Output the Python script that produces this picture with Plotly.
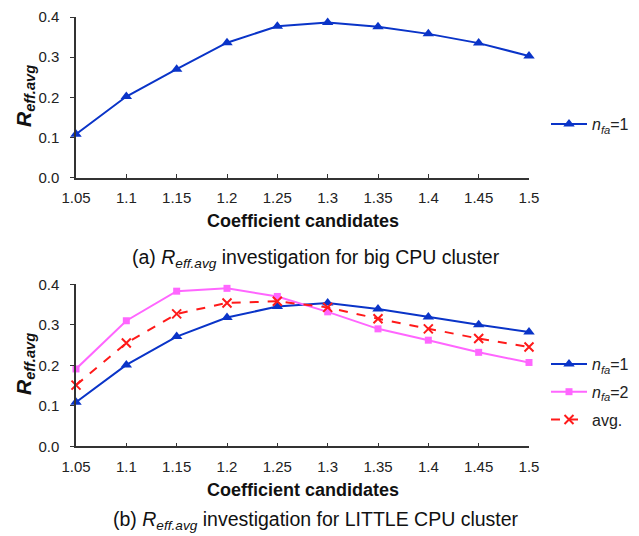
import plotly.graph_objects as go

# Coefficient candidates on the x axis
coeffs = [1.05, 1.1, 1.15, 1.2, 1.25, 1.3, 1.35, 1.4, 1.45, 1.5]
tick_text = ["1.05", "1.1", "1.15", "1.2", "1.25", "1.3", "1.35", "1.4", "1.45", "1.5"]

# (a) big CPU cluster
big_nfa1 = [0.108, 0.202, 0.270, 0.336, 0.377, 0.386, 0.376, 0.358, 0.335, 0.303]

# (b) LITTLE CPU cluster
little_nfa1 = [0.109, 0.201, 0.271, 0.318, 0.345, 0.354, 0.339, 0.319, 0.300, 0.282]
little_nfa2 = [0.191, 0.310, 0.383, 0.390, 0.370, 0.332, 0.290, 0.262, 0.232, 0.207]
little_avg = [0.151, 0.255, 0.327, 0.354, 0.358, 0.343, 0.315, 0.290, 0.266, 0.245]

BLUE = "#0a34c8"
PINK = "#ff66ff"
RED = "#ff1a1a"
FONT = "Liberation Sans, Arial, sans-serif"

W, H = 639, 536


def px(x):
    return x / W


def py(y):
    return 1 - y / H


fig = go.Figure()

fig.add_trace(go.Scatter(
    x=coeffs, y=big_nfa1, mode="lines+markers", name="<i>n<sub>fa</sub></i>=1",
    line=dict(color=BLUE, width=2),
    marker=dict(symbol="triangle-up", size=10, color=BLUE),
    xaxis="x", yaxis="y", legend="legend", cliponaxis=False,
))

fig.add_trace(go.Scatter(
    x=coeffs, y=little_nfa1, mode="lines+markers", name="<i>n<sub>fa</sub></i>=1",
    line=dict(color=BLUE, width=2),
    marker=dict(symbol="triangle-up", size=10, color=BLUE),
    xaxis="x2", yaxis="y2", legend="legend2", legendgroup="g1", cliponaxis=False,
))
fig.add_trace(go.Scatter(
    x=coeffs, y=little_nfa2, mode="lines+markers", name="<i>n<sub>fa</sub></i>=2",
    line=dict(color=PINK, width=2),
    marker=dict(symbol="square", size=7, color=PINK),
    xaxis="x2", yaxis="y2", legend="legend2", legendgroup="g2", cliponaxis=False,
))
fig.add_trace(go.Scatter(
    x=coeffs, y=little_avg, mode="lines+markers", name="avg.",
    line=dict(color=RED, width=2, dash="dash"),
    marker=dict(symbol="x-thin", size=9, color=RED, line=dict(color=RED, width=2)),
    xaxis="x2", yaxis="y2", legend="legend2", legendgroup="g3", cliponaxis=False,
))

xdom = [px(76), px(529)]
top_dom = [py(177.7), py(17)]
bot_dom = [py(446.3), py(284.3)]

xaxis_common = dict(
    range=[1.05, 1.5], tickvals=coeffs, ticktext=tick_text,
    showline=True, linecolor="#333333", linewidth=1.5,
    ticks="inside", ticklen=4, tickcolor="#333333",
    showgrid=False, zeroline=False, ticklabelstandoff=6,
    tickfont=dict(family=FONT, size=15, color="#222222"),
)
yaxis_common = dict(
    range=[0, 0.4], tickvals=[0, 0.1, 0.2, 0.3, 0.4], tickformat=".1f",
    showline=True, linecolor="#333333", linewidth=1.5,
    ticks="outside", ticklen=4, tickcolor="#333333",
    showgrid=False, zeroline=False, ticklabelstandoff=8,
    tickfont=dict(family=FONT, size=15, color="#222222"),
)

legend_common = dict(
    font=dict(family=FONT, size=16, color="#222222"),
    bgcolor="rgba(0,0,0,0)", xanchor="left", yanchor="middle",
    itemwidth=36, tracegroupgap=4,
)

fig.update_layout(
    width=W, height=H,
    margin=dict(l=0, r=0, t=0, b=0, autoexpand=False),
    paper_bgcolor="white", plot_bgcolor="white",
    xaxis=dict(domain=xdom, anchor="y", **xaxis_common),
    yaxis=dict(domain=top_dom, anchor="x", **yaxis_common),
    xaxis2=dict(domain=xdom, anchor="y2", **xaxis_common),
    yaxis2=dict(domain=bot_dom, anchor="x2", **yaxis_common),
    legend=dict(x=px(546), y=py(124), **legend_common),
    legend2=dict(x=px(546), y=py(392), **legend_common),
    showlegend=True,
)

annotations = [
    dict(x=px(25), y=py(96), text="<b><i>R<sub>eff.avg</sub></i></b>", textangle=-90,
         font=dict(family=FONT, size=21, color="#111111")),
    dict(x=px(25), y=py(364), text="<b><i>R<sub>eff.avg</sub></i></b>", textangle=-90,
         font=dict(family=FONT, size=21, color="#111111")),
    dict(x=px(303), y=py(221), text="<b>Coefficient candidates</b>",
         font=dict(family=FONT, size=18, color="#111111")),
    dict(x=px(303), y=py(490), text="<b>Coefficient candidates</b>",
         font=dict(family=FONT, size=18, color="#111111")),
    dict(x=px(316), y=py(258), text="(a) <i>R<sub>eff.avg</sub></i> investigation for big CPU cluster",
         font=dict(family=FONT, size=19.5, color="#111111")),
    dict(x=px(316), y=py(520), text="(b) <i>R<sub>eff.avg</sub></i> investigation for LITTLE CPU cluster",
         font=dict(family=FONT, size=19.5, color="#111111")),
]
for a in annotations:
    a.update(xref="paper", yref="paper", showarrow=False, xanchor="center", yanchor="middle")
fig.update_layout(annotations=annotations)

fig.write_html("out.html")
